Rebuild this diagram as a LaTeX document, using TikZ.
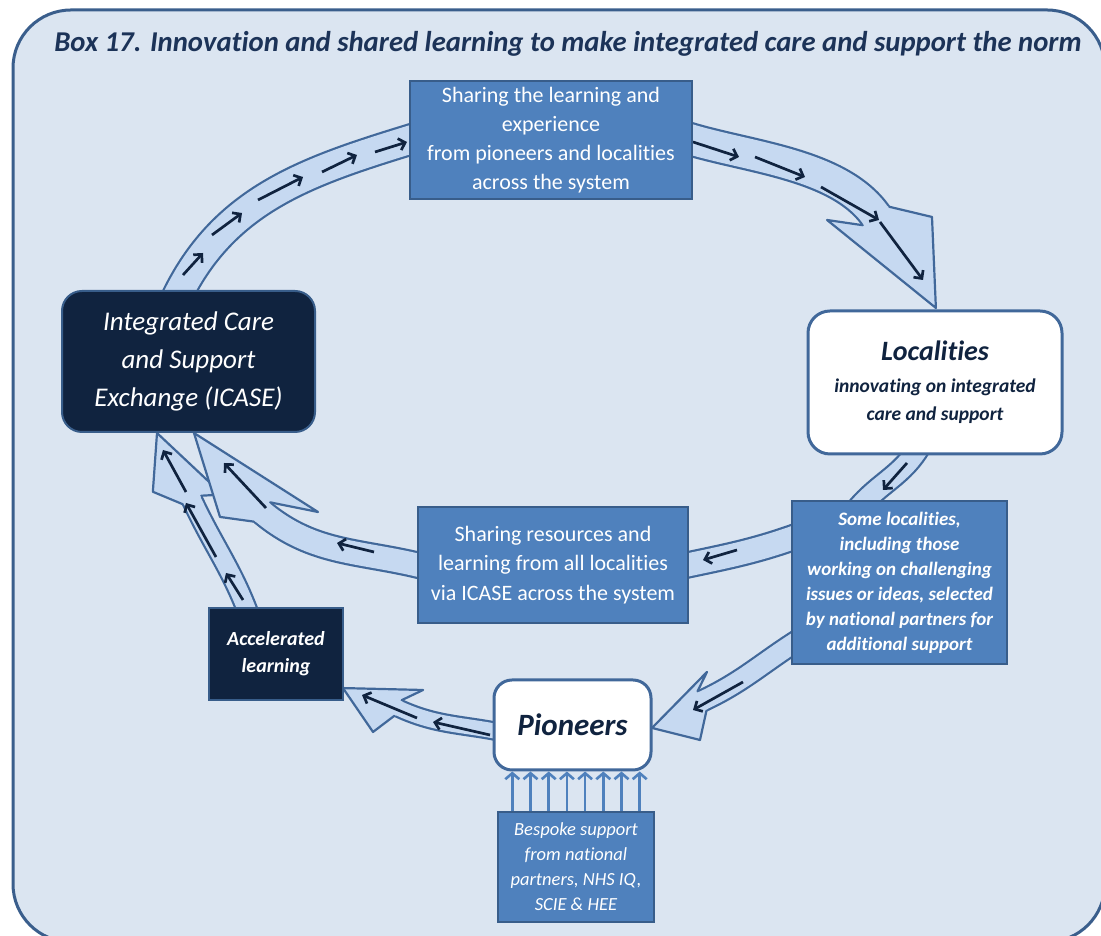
\documentclass[tikz,border=0pt]{standalone}
\usepackage{fontspec}
\setmainfont{Carlito}[Ligatures=NoCommon]
\usetikzlibrary{arrows.meta, calc, backgrounds}

\definecolor{pagefill}{HTML}{DBE5F1}
\definecolor{frameline}{HTML}{3A5E8C}
\definecolor{boxblue}{HTML}{4F81BD}
\definecolor{boxline}{HTML}{385D8A}
\definecolor{navy}{HTML}{10233F}
\definecolor{bandfill}{HTML}{C6D9F1}
\definecolor{bandline}{HTML}{41689A}
\definecolor{titleblue}{HTML}{1C3358}

\begin{document}
\begin{tikzpicture}[x=1pt, y=1pt]
	\tikzset{
		bluebox/.style = {rectangle, draw=boxline, fill=boxblue, line width=2pt, text=white, align=center, inner sep=0pt},
		darkbox/.style = {rectangle, draw=boxline, fill=navy, line width=2pt, text=white, align=center, inner sep=0pt},
		whitebox/.style = {rectangle, rounded corners=22pt, draw=bandline, fill=white, line width=3pt, text=navy, align=center, inner sep=0pt},
		band/.style = {draw=bandline, line width=2.2pt, double=bandfill, double distance=#1},
		tick/.style = {draw=navy, line width=2.7pt, -{Straight Barb[length=6pt, width=12pt]}},
		supp/.style = {draw=boxblue, line width=2.6pt, -{Straight Barb[length=6pt, width=14pt]}},
		pics/blockhead/.style n args = {4}{code={
			\fill[bandfill] (-1.5,#4-1.2) -- (0,#4) -- (#1) -- (#2) -- (#3) -- (0,-#4) -- (-1.5,-#4+1.2) -- cycle;
			\draw[bandline, line width=2.2pt, line join=round, line cap=round] (0,#4) -- (#1) -- (#2) -- (#3) -- (0,-#4);
		}}
	}
	\useasboundingbox (0,0) rectangle (1101,936);

	% title and boxes
	\node[text=titleblue, font=\bfseries\itshape\fontsize{28.7}{32}\selectfont] (title) at (568,892)
		{Box 17. Innovation and shared learning to make integrated care and support the norm};
	\node[bluebox, minimum width=282pt, minimum height=118pt, font=\fontsize{22}{29}\selectfont] (share) at (551,796)
		{Sharing the learning and\\experience\\from pioneers and localities\\across the system};
	\node[darkbox, rounded corners=20pt, minimum width=253pt, minimum height=141pt, font=\itshape\fontsize{27}{38}\selectfont] (icase) at (188.5,574.5)
		{Integrated Care\\and Support\\Exchange (ICASE)};
	\node[whitebox, minimum width=254pt, minimum height=143pt, font=\bfseries\itshape\fontsize{19.5}{28}\selectfont] (local) at (935,553.5)
		{{\fontsize{28}{34}\selectfont Localities}\\[4pt]innovating on integrated\\care and support};
	\node[bluebox, minimum width=215pt, minimum height=163pt, font=\bfseries\itshape\fontsize{19}{25}\selectfont] (some) at (899.5,353.5)
		{Some localities,\\including those\\working on challenging\\issues or ideas, selected\\by national partners for\\additional support};
	\node[bluebox, minimum width=270pt, minimum height=116pt, font=\fontsize{22}{29.5}\selectfont] (resrc) at (553,371)
		{Sharing resources and\\learning from all localities\\via ICASE across the system};
	\node[darkbox, minimum width=134pt, minimum height=92pt, font=\bfseries\itshape\fontsize{20}{27}\selectfont] (accel) at (276,282)
		{Accelerated\\learning};
	\node[whitebox, rounded corners=18pt, minimum width=157pt, minimum height=90pt, font=\bfseries\itshape\fontsize{31}{36}\selectfont] (pion) at (572.5,211)
		{Pioneers};
	\node[bluebox, minimum width=156pt, minimum height=110pt, font=\itshape\fontsize{18.5}{25}\selectfont] (besp) at (576,69)
		{Bespoke support\\from national\\partners, NHS IQ,\\SCIE \& HEE};

	% support arrows into the pioneers
	\draw[supp] ([xshift=-63.7pt]besp.north) -- ([xshift=-60.2pt]pion.south);
	\draw[supp] ([xshift=-45.5pt]besp.north) -- ([xshift=-42pt]pion.south);
	\draw[supp] ([xshift=-27.3pt]besp.north) -- ([xshift=-23.8pt]pion.south);
	\draw[supp] ([xshift=-9.1pt]besp.north) -- ([xshift=-5.6pt]pion.south);
	\draw[supp] ([xshift=9.1pt]besp.north) -- ([xshift=12.6pt]pion.south);
	\draw[supp] ([xshift=27.3pt]besp.north) -- ([xshift=30.8pt]pion.south);
	\draw[supp] ([xshift=45.5pt]besp.north) -- ([xshift=49pt]pion.south);
	\draw[supp] ([xshift=63.7pt]besp.north) -- ([xshift=67.2pt]pion.south);

	\begin{scope}[on background layer]
		\fill[white] (0,0) rectangle (1101,936);
		\begin{scope}
			\clip (0,0) rectangle (1101,936);
			\draw[frameline, line width=3pt, fill=pagefill, rounded corners=58pt] (13,-6) rectangle (1105,926);
		\end{scope}

		\coordinate (h2) at (876,720);
		\coordinate (h5) at (262,424);
		\coordinate (h6) at (192,436);
		\coordinate (h7) at (702,235);
		\coordinate (h8) at (398,228);

		% the cycle
		\draw[band=28pt] ($(icase.north)+(-14,-12)$) to[out=65, in=197] ($(share.west)+(10,3)$);
		\draw[band=30pt] ($(share.east)+(-10,3)$) to[out=-18, in=125, looseness=0.8] (h2);
		\pic[rotate=-55] at (h2) {blockhead={32.9,45.3}{109.7,-3.7}{-24.8,-42.4}{16.1}};
		\draw[band=20pt] ($(local.south)+(-15,10)$) to[out=-120, in=50] ($(some.north)+(-42,-9)$);
		\draw[band=23pt] ($(some.west)+(11,48)$) to[out=200, in=12] ($(resrc.east)+(-11,-2)$);
		\draw[band=18pt] ($(accel.north)+(-26,-11)$) to[out=110, in=-65] (h6);
		\pic[rotate=115] at (h6) {blockhead={24,32}{75.5,3.4}{-8,-30}{10.1}};
		\draw[band=23pt] ($(resrc.west)+(12,-3)$) to[out=165, in=-40] (h5);
		\pic[rotate=140] at (h5) {blockhead={29,30.8}{102.9,-16.8}{-42.9,-36}{12.6}};
		\draw[band=19pt] ($(some.west)+(10,-56)$) to[out=212, in=25] (h7);
		\pic[rotate=205] at (h7) {blockhead={18.3,34.5}{56.7,3.3}{-16.8,-24.2}{10.6}};
		\draw[band=15pt] ($(pion.west)+(12,-8)$) to[out=168, in=-25] (h8);
		\pic[rotate=155] at (h8) {blockhead={12.5,32.3}{58.3,5.2}{-15.1,-26.9}{8.6}};

		% small arrows along the bands
		\draw[tick] (183,661) -- (203,683);
		\draw[tick] (212,701) -- (242,723);
		\draw[tick] (258,736) -- (303,759);
		\draw[tick] (322,764) -- (357,781);
		\draw[tick] (375,784) -- (407,794);
		\draw[tick] (693,794) -- (739,779);
		\draw[tick] (755,779) -- (805,759);
		\draw[tick] (821,749) -- (879,716);
		\draw[tick] (880,714) -- (923,656);
		\draw[tick] (907,473) -- (883,446);
		\draw[tick] (737,386) -- (703,376);
		\draw[tick] (374,384) -- (337,393);
		\draw[tick] (266,428) -- (224,473);
		\draw[tick] (243,336) -- (226,363);
		\draw[tick] (216,379) -- (186,433);
		\draw[tick] (186,444) -- (163,486);
		\draw[tick] (743,254) -- (693,226);
		\draw[tick] (490,201) -- (433,214);
		\draw[tick] (417,218) -- (362,241);
	\end{scope}
\end{tikzpicture}
\end{document}
